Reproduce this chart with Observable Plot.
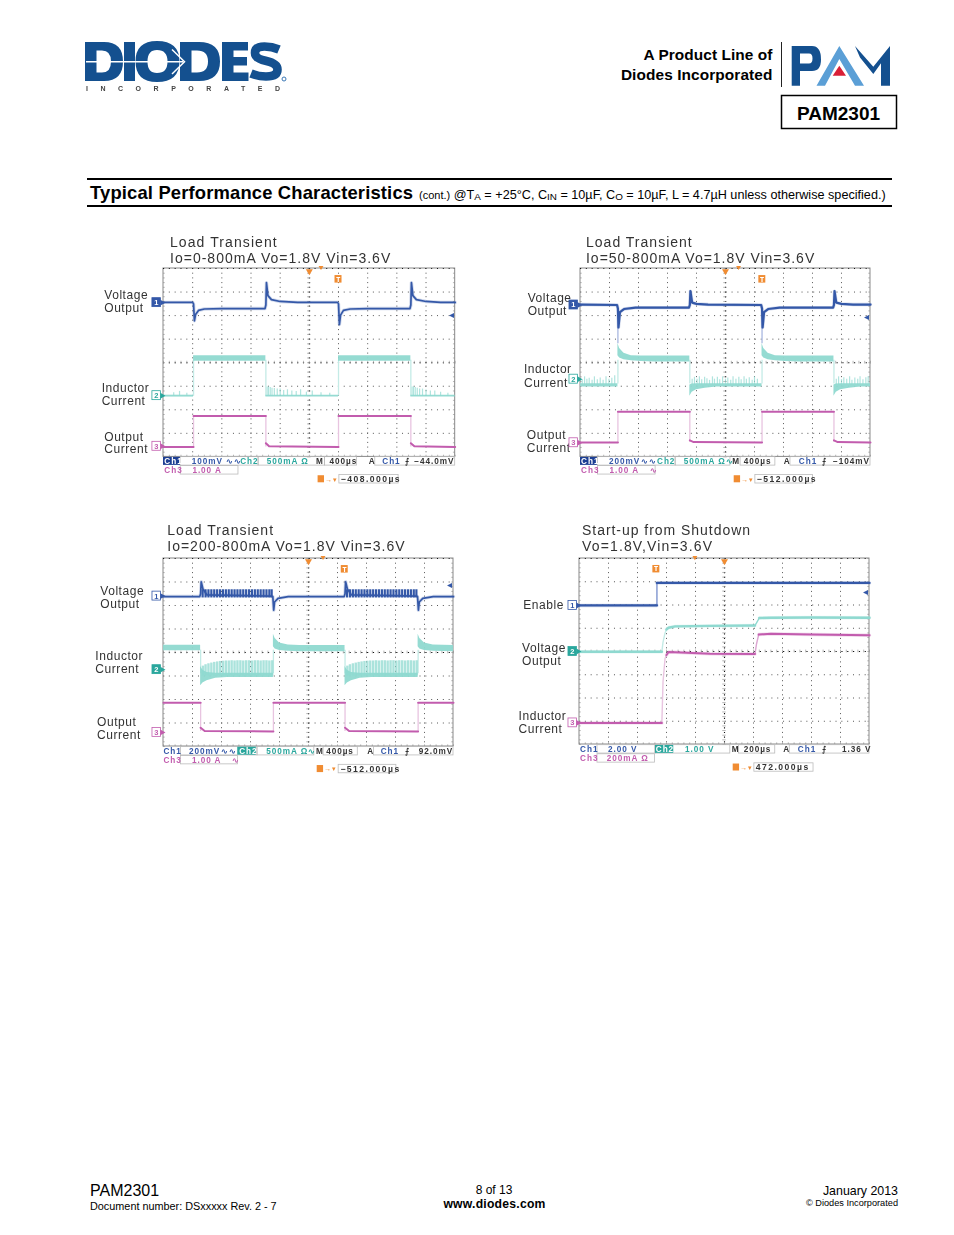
<!DOCTYPE html>
<html><head><meta charset="utf-8">
<script src="https://cdn.jsdelivr.net/npm/d3@7"></script>
<script src="https://cdn.jsdelivr.net/npm/@observablehq/plot@0.6"></script>
<style>
html,body{margin:0;padding:0;background:#fff}
#page{position:relative;width:954px;height:1235px;overflow:hidden;font-family:"Liberation Sans",Arial,sans-serif;color:#000}
#page>div.t{position:absolute;white-space:nowrap;line-height:1;transform:translateY(-50%)}
#page>div.r{transform:translate(-100%,-50%)}
#page>div.c{transform:translate(-50%,-50%)}
#page>div.soft{filter:blur(.3px)}
.hr{position:absolute;background:#000;height:2px;left:87px;width:805px}
sub{font-size:.78em;vertical-align:-.18em;line-height:0}
.scope{position:absolute;overflow:visible;filter:blur(.4px)}
.scope svg{overflow:visible}
g[font-size="8.2"]{letter-spacing:.95px}
g[font-size="8.6"]{letter-spacing:1.45px}
</style></head><body><div id="page"></div>
<script>
// Colours of the scope traces
const blue="#3458a8", bluePale="#a9b8e0", teal="#8fd9d0", tealDeep="#2aa79d", tealPale="#c4ebe6", mag="#c25cae", magPale="#e8c4e0", orange="#f08c32";

// ---------- Panel 1: Load Transient 0-800mA (x, y in scope divisions)
const p1Title=["Load Transient","Io=0-800mA Vo=1.8V Vin=3.6V"];
const p1VoltX=[0,1.0,1.03,1.06,1.1,1.2,1.4,2.0,3.48,3.51,3.53,3.58,3.7,4.0,4.6,5.97,6.0,6.03,6.07,6.17,6.4,7,8.45,8.48,8.5,8.55,8.67,9,9.5,10];
const p1VoltY=[1.44,1.44,1.5,2.22,1.95,1.78,1.72,1.7,1.7,1.55,.6,1.15,1.32,1.4,1.44,1.44,1.5,2.38,1.98,1.78,1.72,1.7,1.7,1.55,.6,1.15,1.32,1.4,1.44,1.44];
const p1BandZ=[0,0,1,1,2,2,3,3,4,4];
const p1BandX=[0,1.03,1.03,3.51,3.51,6,6,8.48,8.48,10];
const p1BandTop=[5.38,5.38,3.71,3.71,5.38,5.38,3.71,3.71,5.38,5.38];
const p1BandBot=[5.46,5.46,3.94,3.94,5.46,5.46,3.94,3.94,5.46,5.46];
const p1SpikeX=[.35,.55,.8,3.55,3.6,3.66,3.72,3.8,3.9,4,4.12,4.25,4.4,4.55,4.7,4.9,5.1,5.4,5.7,8.52,8.57,8.63,8.7,8.78,8.88,9,9.15,9.3,9.5,9.75];
const p1SpikeTop=[5.28,5.22,5.3,5.03,5.03,5.05,5.08,5.1,5.12,5.12,5.18,5.15,5.2,5.22,5.15,5.25,5.2,5.28,5.3,5.03,5.03,5.05,5.08,5.12,5.12,5.16,5.2,5.2,5.25,5.3];
const p1BandEdges=[1.03,3.51,6,8.48];
const p1OutZ=[0,0,1,1,2,2,2,3,3,4,4,4];
const p1OutX=[0,1.03,1.03,3.51,3.51,3.62,6,6,8.48,8.48,8.6,10];
const p1OutY=[7.58,7.58,6.26,6.26,7.42,7.55,7.58,6.26,6.26,7.42,7.55,7.58];
const p1Side=["Voltage","Output","Inductor","Current","Output","Current"];
const p1SideX=[-2.03,-2.03,-2.12,-2.12,-2.03,-2.03];
const p1SideY=[1.13,1.69,5.1,5.64,7.15,7.69];
const p1StatusText=["Ch1","100mV","∿∿","Ch2","500mA Ω","M","400µs","A","Ch1","⨍","−44.0mV","Ch3","1.00 A","−408.000µs"];
const p1StatusX=[.03,.97,2.15,2.63,3.54,5.23,5.69,7.04,7.5,8.29,8.6,.03,.99,6.08];
const p1StatusRow=[0,0,0,0,0,0,0,0,0,0,0,1,1,2];
const p1StatusColor=["#fff",blue,blue,tealDeep,tealDeep,"#333","#333","#333",blue,"#333","#333",mag,mag,"#333"];
const p1Cells=[[.59,3.26,0],[3.26,5.54,0],[5.54,6.63,0],[7.26,10,0],[.59,2.57,1],[6.03,8.06,2]];

// ---------- Panel 2: Load Transient 50-800mA
const p2Title=["Load Transient","Io=50-800mA Vo=1.8V Vin=3.6V"];
const p2VoltX=[0,1.26,1.29,1.31,1.36,1.5,1.9,3.74,3.77,3.79,3.85,4,4.4,6.23,6.26,6.28,6.33,6.47,6.87,8.71,8.74,8.76,8.82,9,9.4,10];
const p2VoltY=[1.53,1.55,1.7,2.5,1.85,1.72,1.66,1.66,1.55,.96,1.45,1.5,1.53,1.55,1.7,2.5,1.85,1.72,1.66,1.66,1.55,.96,1.45,1.5,1.53,1.53];
const p2BandZ=[0,0,1,1,1,1,1,1,1,2,2,2,2,2,2,3,3,3,3,3,3,3,4,4,4,4,4,4];
const p2BandX=[0,1.29,1.29,1.35,1.5,1.75,2.1,2.6,3.77,3.77,3.85,4,4.3,4.7,6.26,6.26,6.32,6.47,6.72,7.07,7.57,8.74,8.74,8.82,8.97,9.27,9.67,10];
const p2BandTop=[4.89,4.89,3.19,3.4,3.6,3.7,3.72,3.72,3.72,4.95,4.9,4.89,4.89,4.89,4.89,3.19,3.4,3.6,3.7,3.72,3.72,3.72,4.95,4.9,4.89,4.89,4.89,4.89];
const p2BandBot=[5.03,5.03,3.7,3.8,3.88,3.92,3.95,3.97,3.97,5.42,5.25,5.15,5.08,5.03,5.03,3.7,3.8,3.88,3.92,3.95,3.97,3.97,5.42,5.25,5.15,5.08,5.03,5.03];
const p2SpikeX=[.06,.14,.22,.3,.4,.48,.58,.68,.78,.88,.98,1.08,1.18,3.85,3.93,4.02,4.1,4.18,4.28,4.36,4.45,4.55,4.62,4.72,4.8,4.9,5,5.08,5.18,5.26,5.36,5.46,5.54,5.64,5.72,5.82,5.92,6,6.1,8.82,8.9,9,9.08,9.18,9.28,9.36,9.46,9.56,9.64,9.74,9.84,9.92];
const p2SpikeTop=[4.72,4.6,4.7,4.66,4.75,4.6,4.72,4.65,4.75,4.6,4.7,4.66,4.55,4.7,4.62,4.7,4.6,4.72,4.62,4.68,4.75,4.6,4.7,4.62,4.72,4.6,4.7,4.65,4.75,4.6,4.7,4.62,4.72,4.6,4.7,4.64,4.75,4.6,4.7,4.7,4.6,4.72,4.64,4.7,4.6,4.75,4.65,4.7,4.6,4.72,4.64,4.6];
const p2BandEdges=[1.29,3.77,6.26,8.74];
const p2VoltEdges=[1.29,6.26];
const p2OutZ=[0,0,1,1,2,2,2,3,3,4,4,4];
const p2OutX=[0,1.29,1.29,3.77,3.77,3.9,6.26,6.26,8.74,8.74,8.87,10];
const p2OutY=[7.39,7.39,6.08,6.08,7.3,7.37,7.39,6.08,6.08,7.3,7.37,7.39];
const p2Side=["Voltage","Output","Inductor","Current","Output","Current"];
const p2SideX=[-1.82,-1.82,-1.95,-1.95,-1.85,-1.85];
const p2SideY=[1.26,1.82,4.28,4.85,7.07,7.65];
const p2StatusText=["Ch1","200mV","∿∿","Ch2","500mA Ω∿","M","400µs","A","Ch1","⨍","−104mV","Ch3","1.00 A","∿","−512.000µs"];
const p2StatusX=[.02,.98,2.09,2.64,3.56,5.23,5.63,7.01,7.53,8.33,8.71,.02,1.0,2.39,6.08];
const p2StatusRow=[0,0,0,0,0,0,0,0,0,0,0,1,1,1,2];
const p2StatusColor=["#fff",blue,blue,tealDeep,tealDeep,"#333","#333","#333",blue,"#333","#333",mag,mag,mag,"#333"];
const p2Cells=[[.6,3.28,0],[3.28,5.17,0],[5.52,6.72,0],[7.24,10,0],[.6,2.59,1],[6.03,8.02,2]];

// ---------- Panel 3: Load Transient 200-800mA
const p3Title=["Load Transient","Io=200-800mA Vo=1.8V Vin=3.6V"];
const p3VoltX=[0,1.25,1.28,1.3,1.36,1.5,3.7,3.77,3.8,3.83,3.95,4.3,6.23,6.26,6.28,6.34,6.48,8.72,8.76,8.79,8.82,8.94,9.3,10];
const p3VoltY=[1.62,1.62,1.5,.99,1.3,1.55,1.6,1.62,2.2,1.85,1.7,1.62,1.62,1.5,.99,1.3,1.55,1.6,1.62,2.2,1.85,1.7,1.62,1.62];
const p3RippleX=[1.35,1.45,1.55,1.65,1.75,1.85,1.95,2.05,2.15,2.25,2.35,2.45,2.55,2.65,2.75,2.85,2.95,3.05,3.15,3.25,3.35,3.45,3.55,3.65,3.73,6.33,6.43,6.53,6.63,6.73,6.83,6.93,7.03,7.13,7.23,7.33,7.43,7.53,7.63,7.73,7.83,7.93,8.03,8.13,8.23,8.33,8.43,8.53,8.63,8.72];
const p3BandZ=[0,0,1,1,1,1,1,1,2,2,2,2,2,2,3,3,3,3,3,3,4,4,4,4,4];
const p3BandX=[0,1.28,1.28,1.36,1.5,1.8,2.2,3.79,3.79,3.85,4,4.3,4.7,6.26,6.26,6.34,6.48,6.78,7.18,8.78,8.78,8.84,9,9.3,10];
const p3BandTop=[3.69,3.69,4.6,4.75,4.85,4.88,4.88,4.88,3.22,3.4,3.6,3.68,3.7,3.7,4.6,4.75,4.85,4.88,4.88,4.88,3.22,3.4,3.6,3.68,3.7];
const p3BandBot=[3.93,3.93,5.42,5.3,5.2,5.1,5.06,5.06,3.75,3.85,3.92,3.95,3.97,3.97,5.42,5.3,5.2,5.1,5.06,5.06,3.75,3.85,3.92,3.95,3.97];
const p3CombX=[1.36,1.45,1.55,1.65,1.75,1.85,1.95,2.05,2.15,2.25,2.35,2.45,2.55,2.65,2.75,2.85,2.95,3.05,3.15,3.25,3.35,3.45,3.55,3.65,3.75,6.34,6.43,6.53,6.63,6.73,6.83,6.93,7.03,7.13,7.23,7.33,7.43,7.53,7.63,7.73,7.83,7.93,8.03,8.13,8.23,8.33,8.43,8.53,8.63,8.73];
const p3CombTop=[4.58,4.52,4.48,4.45,4.42,4.4,4.38,4.37,4.36,4.36,4.35,4.36,4.35,4.35,4.36,4.35,4.35,4.36,4.35,4.35,4.36,4.35,4.35,4.36,4.35,4.58,4.52,4.48,4.45,4.42,4.4,4.38,4.37,4.36,4.36,4.35,4.36,4.35,4.35,4.36,4.35,4.35,4.36,4.35,4.35,4.36,4.35,4.35,4.36,4.35];
const p3BandEdges=[1.28,3.79,6.26,8.78];
const p3OutZ=[0,0,1,1,1,2,2,3,3,3,4,4];
const p3OutX=[0,1.28,1.28,1.42,3.79,3.79,6.26,6.26,6.4,8.78,8.78,10];
const p3OutY=[6.14,6.14,7.2,7.34,7.36,6.14,6.14,7.2,7.34,7.36,6.14,6.14];
const p3Side=["Voltage","Output","Inductor","Current","Output","Current"];
const p3SideX=[-2.18,-2.18,-2.35,-2.35,-2.29,-2.29];
const p3SideY=[1.38,1.93,4.15,4.7,6.96,7.52];
const p3StatusText=["Ch1","200mV","∿∿","Ch2","500mA Ω∿","M","400µs","A","Ch1","⨍","92.0mV","Ch3","1.00 A","∿","−512.000µs"];
const p3StatusX=[.0,.88,1.98,2.61,3.54,5.26,5.61,7.03,7.49,8.33,8.8,.0,.98,2.36,6.1];
const p3StatusRow=[0,0,0,0,0,0,0,0,0,0,0,1,1,1,2];
const p3StatusColor=[blue,blue,blue,"#fff",tealDeep,"#333","#333","#333",blue,"#333","#333",mag,mag,mag,"#333"];
const p3Cells=[[.6,3.24,0],[3.24,5.2,0],[5.52,6.7,0],[7.26,10,0],[.6,2.57,1],[6.04,8.03,2]];

// ---------- Panel 4: Start-up from Shutdown
const p4Title=["Start-up from Shutdown","Vo=1.8V,Vin=3.6V"];
const p4EnableX=[0,2.67,NaN,2.67,10];
const p4EnableY=[2.02,2.02,NaN,1.05,1.05];
const p4EnableRiseX=[2.67,2.67];
const p4EnableRiseY=[2.02,1.05];
const p4VoutX=[0,2.84,NaN,3.0,3.07,3.3,4.5,6.05,NaN,6.2,6.6,8,10];
const p4VoutY=[4.01,4.01,NaN,3.05,2.98,2.92,2.9,2.88,NaN,2.56,2.55,2.54,2.55];
const p4VoutRiseX=[2.84,2.88,2.95,3.0];
const p4VoutRiseY=[4.01,3.6,3.2,3.05];
const p4VoutStepX=[6.05,6.1,6.2];
const p4VoutStepY=[2.88,2.78,2.56];
const p4CurrX=[0,2.84,NaN,3.0,3.07,3.3,4.5,6.05,NaN,6.18,6.6,8,10];
const p4CurrY=[7.07,7.07,NaN,4.15,4.02,4.03,4.1,4.11,NaN,3.27,3.24,3.27,3.3];
const p4CurrRiseX=[2.84,2.88,2.95,3.0];
const p4CurrRiseY=[7.07,5.3,4.3,4.15];
const p4CurrStepX=[6.05,6.1,6.18];
const p4CurrStepY=[4.11,3.7,3.27];
const p4Side=["Enable","Voltage","Output","Inductor","Current"];
const p4SideX=[-1.94,-1.98,-1.98,-2.1,-2.1];
const p4SideY=[1.99,3.85,4.42,6.8,7.35];
const p4StatusText=["Ch1","2.00 V","Ch2","1.00 V","M","200µs","A","Ch1","⨍","1.36 V","Ch3","200mA Ω","472.000µs"];
const p4StatusX=[.02,.98,2.63,3.64,5.25,5.66,7.03,7.53,8.36,9.05,.02,.94,6.08];
const p4StatusRow=[0,0,0,0,0,0,0,0,0,0,1,1,2];
const p4StatusColor=[blue,blue,"#fff",tealDeep,"#333","#333","#333",blue,"#333","#333",mag,mag,"#333"];
const p4Cells=[[.62,2.62,0],[2.62,5.2,0],[5.5,6.75,0],[7.25,10,0],[.62,2.6,1],[6.03,8.07,2]];

const page=document.getElementById("page");
const measure=document.createElement("canvas").getContext("2d");

// Absolutely placed page text, letter-spaced to a target width when one is given
function text(str,x,y,size,o={}){
  const d=document.createElement("div");
  d.className="t"+(o.align?" "+o.align:"")+(o.soft?" soft":"");
  d.textContent=str;
  d.style.cssText+=`left:${x}px;top:${y}px;font-size:${size}px;font-weight:${o.bold?700:400};color:${o.color||"#000"};`;
  if(o.width){
    measure.font=`${o.bold?700:400} ${size}px "Liberation Sans"`;
    d.style.letterSpacing=((o.width-measure.measureText(str).width)/Math.max(str.length-1,1))+"px";
  }
  page.appendChild(d);return d;
}

function rows(arrs){const keys=Object.keys(arrs);return arrs[keys[0]].map((_,i)=>Object.fromEntries(keys.map(k=>[k,arrs[k][i]])));}

function scope(c){
  const mL=90,mR=8,mT=14,mB=36;
  const W=c.w+mL+mR,H=c.h+mT+mB;
  const minor=d3.range(0,10.01,.2),minorY=d3.range(0,8.01,.2);
  const rowY=c.rowY;
  const status=rows({t:c.statusText,x:c.statusX,r:c.statusRow,col:c.statusColor});
  const cells=rows({x1:c.cells.map(d=>d[0]),x2:c.cells.map(d=>d[1]),r:c.cells.map(d=>d[2])});
  const side=rows({t:c.side,x:c.sideX,y:c.sideY});
  const marks=[
    // graticule
    Plot.ruleX([1,2,3,4,6,7,8,9],{y1:0,y2:8,stroke:"#555",strokeWidth:1,strokeDasharray:"1 3.7"}),
    Plot.ruleY([1,2,3,5,6,7],{x1:0,x2:10,stroke:"#555",strokeWidth:1,strokeDasharray:"1 4.83"}),
    Plot.ruleX([5],{y1:0,y2:8,stroke:"#111",strokeWidth:1.1,strokeDasharray:"1.2 3.5"}),
    Plot.ruleY([4],{x1:0,x2:10,stroke:"#111",strokeWidth:1.1,strokeDasharray:"1.2 4.63"}),
    Plot.ruleY(minorY,{x1:4.94,x2:5.06,stroke:"#999",strokeWidth:.7}),
    Plot.ruleX(minor,{y1:3.94,y2:4.06,stroke:"#999",strokeWidth:.7}),
    Plot.ruleY(minorY,{x1:0,x2:.06,stroke:"#999",strokeWidth:.7}),
    Plot.ruleY(minorY,{x1:9.94,x2:10,stroke:"#999",strokeWidth:.7}),
    Plot.ruleX(minor,{y1:7.93,y2:8,stroke:"#999",strokeWidth:.7}),
    Plot.rect([0],{x1:0,x2:10,y1:0,y2:8,stroke:"#888",fill:"none",strokeWidth:1}),
    Plot.ruleY([0],{x1:0,x2:10,stroke:"#111",strokeWidth:1,strokeDasharray:"1 4.83"}),
  ];
  if(c.spikeX) marks.push(Plot.ruleX(c.spikeX,{y1:c.spikeTop,y2:c.spikeBase,stroke:teal,strokeWidth:1.2,strokeOpacity:.7}));
  if(c.bandEdges) marks.push(Plot.ruleX(c.bandEdges,{y1:c.edgeTop,y2:c.edgeBot,stroke:tealPale,strokeWidth:1.3}));
  if(c.bandX) marks.push(Plot.areaY(c.bandX,{x:c.bandX,y1:c.bandTop,y2:c.bandBot,z:c.bandZ,fill:teal,fillOpacity:.95}));
  if(c.combX) marks.push(Plot.ruleX(c.combX,{y1:c.combTop,y2:5,stroke:teal,strokeWidth:2.4,strokeOpacity:.75}));
  if(c.outEdges) marks.push(Plot.ruleX(c.outEdges,{y1:c.outTop,y2:c.outBot,stroke:magPale,strokeWidth:1.3}));
  if(c.outX) marks.push(Plot.line(c.outX,{x:c.outX,y:c.outY,z:c.outZ,stroke:mag,strokeWidth:2}));
  if(c.voltEdges) marks.push(Plot.ruleX(c.voltEdges,{y1:1.7,y2:3.2,stroke:bluePale,strokeWidth:1.3}));
  if(c.rippleX) marks.push(Plot.ruleX(c.rippleX,{y1:1.33,y2:1.68,stroke:blue,strokeWidth:2.2}));
  if(c.pale) for(const t of c.pale) marks.push(Plot.line(t.x,{x:t.x,y:t.y,stroke:t.color,strokeWidth:1.4}));
  if(c.traces) for(const t of c.traces){
    marks.push(Plot.line(t.x,{x:t.x,y:t.y,stroke:t.color,strokeWidth:3.4,strokeOpacity:.22}));
    marks.push(Plot.line(t.x,{x:t.x,y:t.y,stroke:t.color,strokeWidth:t.width||1.7}));
  }
  // side labels
  marks.push(Plot.text(side,{x:"x",y:"y",text:"t",textAnchor:"start",fontSize:12,fill:"#333",fontFamily:"Liberation Sans"}));
  // channel flags
  const fl=rows({n:["1","2","3"],y:c.flagY,f:c.flagFill,s:[blue,tealDeep,mag]});
  const fx=c.flagX;
  marks.push(Plot.rect(fl,{x1:fx-.38,x2:fx-.09,y1:d=>d.y-.19,y2:d=>d.y+.19,fill:d=>d.f?d.s:"#fff",stroke:"s",strokeWidth:.8}));
  marks.push(Plot.dot(fl,{x:fx-.05,y:"y",r:2.2,symbol:"triangle",rotate:90,fill:"s"}));
  marks.push(Plot.text(fl,{x:fx-.235,y:"y",text:"n",fontSize:7.5,fontWeight:700,fill:d=>d.f?"#fff":d.s,fontFamily:"Liberation Sans"}));
  // trigger and level markers
  marks.push(Plot.text([c.levelY],{x:9.88,y:d=>d,text:()=>"◂",fontSize:10,fill:blue}));
  marks.push(Plot.dot([0],{x:5,y:.12,r:2.6,symbol:"triangle",rotate:180,fill:orange}));
  marks.push(Plot.rect([0],{x1:c.trigX-.12,x2:c.trigX+.12,y1:.3,y2:.62,fill:orange}));
  marks.push(Plot.text([0],{x:c.trigX,y:.46,text:()=>"T",fontSize:7,fontWeight:700,fill:"#fff"}));
  marks.push(Plot.dot([0],{x:c.tickX,y:-.05,r:1.8,symbol:"triangle",rotate:180,fill:orange}));
  // read-out cells
  marks.push(Plot.rect(cells,{x1:"x1",x2:"x2",y1:d=>rowY[d.r]-.18,y2:d=>rowY[d.r]+.18,fill:"none",stroke:"#bbb",strokeWidth:.8}));
  marks.push(Plot.rect([0],{x1:c.hiX[0],x2:c.hiX[1],y1:rowY[0]-.17,y2:rowY[0]+.17,fill:c.hiColor}));
  marks.push(Plot.text(status.filter(d=>d.r<2),{x:"x",y:d=>rowY[d.r],text:"t",textAnchor:"start",fill:"col",fontSize:8.2,fontWeight:700,fontFamily:"Liberation Sans"}));
  marks.push(Plot.text(status.filter(d=>d.r==2),{x:"x",y:d=>rowY[d.r],text:"t",textAnchor:"start",fill:"col",fontSize:8.6,fontWeight:700,fontFamily:"Liberation Sans"}));
  marks.push(Plot.rect([0],{x1:5.3,x2:5.52,y1:rowY[2]-.15,y2:rowY[2]+.15,fill:orange}));
  marks.push(Plot.text([0],{x:5.75,y:rowY[2],text:()=>"→▾",fontSize:7,fill:orange}));
  const fig=Plot.plot({width:W,height:H,marginLeft:mL,marginRight:mR,marginTop:mT,marginBottom:mB,
    x:{domain:[0,10],axis:null},y:{domain:[8,0],axis:null},marks,style:{background:"transparent",overflow:"visible",letterSpacing:".55px"}});
  const holder=document.createElement("div");
  holder.className="scope";
  holder.style.left=(c.x-mL)+"px";holder.style.top=(c.y-mT)+"px";
  holder.appendChild(fig);page.appendChild(holder);
  text(c.title[0],c.titleX,c.titleY[0],14,{color:"#333",width:c.titleW[0],soft:true});
  text(c.title[1],c.titleX,c.titleY[1],14,{color:"#333",width:c.titleW[1],soft:true});
}

// ---------- Page header (logos as drawn artwork; the word marks stay in paths)
const svgNS="http://www.w3.org/2000/svg";
const logo=document.createElement("div");
logo.innerHTML=`<svg xmlns="${svgNS}" width="954" height="135" style="position:absolute;left:0;top:0;filter:blur(.3px)">
 <g fill="#14508f" fill-rule="evenodd">
  <path d="M85 42H104Q123 42 123 61.5Q123 81 104 81H85ZM96.5 50.5V72.5H102Q111 72.5 111 61.5Q111 50.5 102 50.5Z"/>
  <rect x="124" y="42" width="11" height="39"/>
  <path d="M157 41Q179.5 41 179.5 61.5Q179.5 82 157 82Q135.5 82 135.5 61.5Q135.5 41 157 41ZM157 50Q147.5 50 147.5 61.5Q147.5 73 157 73Q167.5 73 167.5 61.5Q167.5 50 157 50Z"/>
  <path d="M180 42H199Q220 42 220 61.5Q220 81 199 81H180ZM191.5 50.5V72.5H197Q208 72.5 208 61.5Q208 50.5 197 50.5Z"/>
  <path d="M222 42H248V50.5H233.5V57H247V65.5H233.5V72.5H248.5V81H222Z"/>
 </g>
 <path d="M279 49.5Q272 46.5 264.5 46.5Q255 46.5 255 53Q255 58.5 265.5 60.8Q277.5 63.4 277.5 69.5Q277.5 76.5 266 76.5Q258.5 76.5 251 73.5" fill="none" stroke="#14508f" stroke-width="8.6"/>
 <path d="M86 61.7H183" stroke="#fff" stroke-width="1.5" fill="none"/>
 <path d="M172 49.5L184.5 61.7L172 74" stroke="#fff" stroke-width="1.5" fill="none"/>
 <circle cx="284" cy="79" r="2" fill="none" stroke="#3a77b5" stroke-width="1"/>
 <text x="86" y="91" font-family="Liberation Sans" font-weight="700" font-size="7" fill="#444" textLength="194">INCORPORATED</text>
 <path fill="#14508f" fill-rule="evenodd" d="M791.7 46H812Q821 46 821 59.5Q821 71 812 71H800V85.7H791.7ZM800 53.5V63.5H809Q812.5 63.5 812.5 58.5Q812.5 53.5 809 53.5Z"/>
 <path fill="#5b9fd6" d="M839.3 46L864 85.7H855L839.3 59L825 85.7H816.5Z"/>
 <path fill="#d91f36" d="M832.7 75.7H846L839.3 65.7Z"/>
 <path fill="#14508f" d="M855 46L873.3 66.7L890 46V85.7H881V63.3L873.3 74L860 57.5Z"/>
 <rect x="781" y="42" width="1" height="45" fill="#222"/>
 <rect x="781.5" y="95.5" width="115" height="33" fill="none" stroke="#000" stroke-width="1.5"/>
</svg>`;
page.appendChild(logo);
text("A Product Line of",772.5,55,15.4,{bold:true,align:"r",width:129.5});
text("Diodes Incorporated",772.5,75,15.4,{bold:true,align:"r",width:151.5});
text("PAM2301",838.5,112.5,19,{bold:true,align:"c"});

for(const y of [178,205]){const h=document.createElement("div");h.className="hr";h.style.top=y+"px";page.appendChild(h);}
text("Typical Performance Characteristics",90,193,18.4,{bold:true,width:323});
const cond=text("",419,195,12.65);
cond.innerHTML='<span style="font-size:11px">(cont.)</span> @T<sub>A</sub> = +25°C, C<sub>IN</sub> = 10µF, C<sub>O</sub> = 10µF, L = 4.7µH unless otherwise specified.)';

// ---------- Scope panels
scope({x:163.3,y:268.3,w:291.7,h:188.4,title:p1Title,titleX:170,titleY:[241.7,258],titleW:[107,221],
  traces:[{x:p1VoltX,y:p1VoltY,color:blue}],
  bandX:p1BandX,bandTop:p1BandTop,bandBot:p1BandBot,bandZ:p1BandZ,
  spikeX:p1SpikeX,spikeTop:p1SpikeTop,spikeBase:5.42,
  bandEdges:p1BandEdges,edgeTop:3.9,edgeBot:5.42,
  outX:p1OutX,outY:p1OutY,outZ:p1OutZ,outEdges:p1BandEdges,outTop:6.26,outBot:7.58,
  side:p1Side,sideX:p1SideX,sideY:p1SideY,
  flagX:0,flagY:[1.45,5.4,7.55],flagFill:[true,false,false],
  levelY:1.95,trigX:6,tickX:5.4,
  statusText:p1StatusText,statusX:p1StatusX,statusRow:p1StatusRow,statusColor:p1StatusColor,cells:p1Cells,rowY:[8.19,8.57,8.95],hiX:[0,.58],hiColor:"#1d3f94"});

scope({x:580,y:268.3,w:290,h:188.4,title:p2Title,titleX:586,titleY:[241.7,258.3],titleW:[106,229],
  traces:[{x:p2VoltX,y:p2VoltY,color:blue,width:2.2}],voltEdges:p2VoltEdges,
  bandX:p2BandX,bandTop:p2BandTop,bandBot:p2BandBot,bandZ:p2BandZ,
  spikeX:p2SpikeX,spikeTop:p2SpikeTop,spikeBase:4.95,
  bandEdges:p2BandEdges,edgeTop:3.9,edgeBot:4.9,
  outX:p2OutX,outY:p2OutY,outZ:p2OutZ,outEdges:p2BandEdges,outTop:6.08,outBot:7.39,
  side:p2Side,sideX:p2SideX,sideY:p2SideY,
  flagX:0,flagY:[1.55,4.7,7.4],flagFill:[true,false,false],
  levelY:2.05,trigX:6.27,tickX:5.45,
  statusText:p2StatusText,statusX:p2StatusX,statusRow:p2StatusRow,statusColor:p2StatusColor,cells:p2Cells,rowY:[8.19,8.57,8.95],hiX:[0,.58],hiColor:"#1d3f94"});

scope({x:163.3,y:557.7,w:290,h:188,title:p3Title,titleX:167.3,titleY:[530,545.7],titleW:[106,238],
  traces:[{x:p3VoltX,y:p3VoltY,color:blue}],rippleX:p3RippleX,
  bandX:p3BandX,bandTop:p3BandTop,bandBot:p3BandBot,bandZ:p3BandZ,
  combX:p3CombX,combTop:p3CombTop,
  bandEdges:p3BandEdges,edgeTop:3.9,edgeBot:4.9,
  outX:p3OutX,outY:p3OutY,outZ:p3OutZ,outEdges:p3BandEdges,outTop:6.14,outBot:7.36,
  side:p3Side,sideX:p3SideX,sideY:p3SideY,
  flagX:0,flagY:[1.6,4.73,7.4],flagFill:[false,true,false],
  levelY:1.1,trigX:6.25,tickX:5.5,
  statusText:p3StatusText,statusX:p3StatusX,statusRow:p3StatusRow,statusColor:p3StatusColor,cells:p3Cells,rowY:[8.2,8.58,8.96],hiX:[2.56,3.2],hiColor:tealDeep});

scope({x:579.3,y:558.3,w:290,h:186,title:p4Title,titleX:582,titleY:[530,545.7],titleW:[168,130],
  pale:[{x:p4EnableRiseX,y:p4EnableRiseY,color:"#7f95d0"},{x:p4VoutRiseX,y:p4VoutRiseY,color:tealPale},{x:p4VoutStepX,y:p4VoutStepY,color:teal},{x:p4CurrRiseX,y:p4CurrRiseY,color:magPale},{x:p4CurrStepX,y:p4CurrStepY,color:"#dca6d2"}],
  traces:[{x:p4VoutX,y:p4VoutY,color:teal,width:2.4},{x:p4CurrX,y:p4CurrY,color:mag,width:2},{x:p4EnableX,y:p4EnableY,color:blue,width:2.2}],
  side:p4Side,sideX:p4SideX,sideY:p4SideY,
  flagX:0,flagY:[2.02,4,7.07],flagFill:[false,true,false],
  levelY:1.43,trigX:2.65,tickX:3.98,
  statusText:p4StatusText,statusX:p4StatusX,statusRow:p4StatusRow,statusColor:p4StatusColor,cells:p4Cells,rowY:[8.21,8.6,8.99],hiX:[2.62,3.25],hiColor:tealDeep});

// ---------- Footer
text("PAM2301",90,1190.5,16);
text("Document number: DSxxxxx Rev. 2 - 7",90,1206,10.85);
text("8 of 13",494,1190,12,{align:"c"});
text("www.diodes.com",494.5,1204,12.2,{bold:true,align:"c",width:102});
text("January 2013",898,1191,12.4,{align:"r"});
text("© Diodes Incorporated",898,1204,9.2,{align:"r"});
</script></body></html>
